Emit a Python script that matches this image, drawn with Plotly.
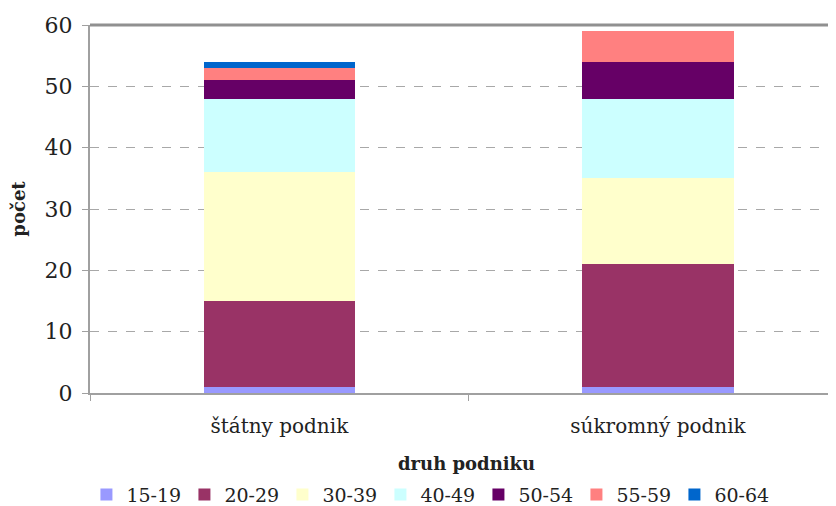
import plotly.graph_objects as go

categories = ["štátny podnik", "súkromný podnik"]
age_groups = ["15-19", "20-29", "30-39", "40-49", "50-54", "55-59", "60-64"]
values = {
    "15-19": [1, 1],
    "20-29": [14, 20],
    "30-39": [21, 14],
    "40-49": [12, 13],
    "50-54": [3, 6],
    "55-59": [2, 5],
    "60-64": [1, 0],
}
colors = ["#9999FF", "#993366", "#FFFFCC", "#CCFFFF", "#660066", "#FF8080", "#0066CC"]

FONT = "DejaVu Serif"

fig = go.Figure()
for g, c in zip(age_groups, colors):
    fig.add_trace(go.Bar(x=categories, y=values[g], name=g, marker=dict(color=c, line=dict(width=0)),
                         width=0.4))

fig.update_layout(
    barmode="stack",
    width=828, height=506,
    margin=dict(l=82, r=0, t=17, b=119),
    paper_bgcolor="white", plot_bgcolor="white",
    font=dict(family=FONT, color="#222222", size=16),
    showlegend=True,
    legend=dict(orientation="h", xref="paper", yref="paper", x=0.455, y=-0.276,
                xanchor="center", yanchor="middle", font=dict(size=19, family=FONT),
                traceorder="normal", itemwidth=30, tracegroupgap=0,
                entrywidth=53, entrywidthmode="pixels"),
    xaxis=dict(
        range=[-0.5, 1.47],
        showline=True, linecolor="#A0A0A0", linewidth=2, mirror=False,
        ticks="outside", tickson="boundaries", ticklen=6, tickcolor="#A0A0A0",
        tickfont=dict(size=20, family=FONT), ticklabelstandoff=14,
        showgrid=False, automargin=False,
    ),
    yaxis=dict(
        range=[0, 60], dtick=10,
        showline=True, linecolor="#A0A0A0", linewidth=2,
        ticks="outside", ticklen=6, tickcolor="#A0A0A0",
        tickfont=dict(size=22, family=FONT), ticklabelstandoff=5,
        showgrid=True, gridcolor="#A8A8A8", griddash="dash", gridwidth=1,
        title=dict(text="<b>počet</b>", font=dict(size=18, family=FONT), standoff=16),
        zeroline=False, automargin=False,
    ),
    annotations=[dict(text="<b>druh podniku</b>", xref="paper", yref="paper", x=0.505, y=-0.192,
                      xanchor="center", yanchor="middle", showarrow=False,
                      font=dict(size=18, family=FONT, color="#222222"))],
)
# top border of plot area
fig.add_shape(type="line", xref="paper", yref="paper", x0=0, x1=1, y0=1, y1=1,
              line=dict(color="#909090", width=3))

fig.write_html("out.html")
